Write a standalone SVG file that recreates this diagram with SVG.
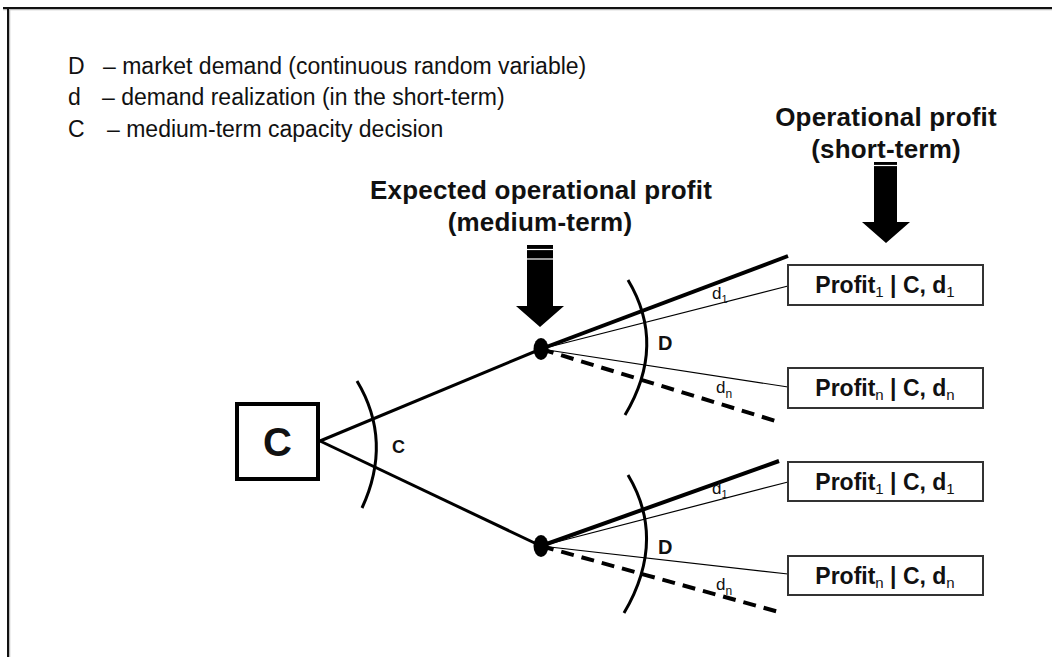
<svg xmlns="http://www.w3.org/2000/svg" width="1052" height="657" viewBox="0 0 1052 657">
  <style>
    .legend { font-family: "Liberation Sans", Arial, sans-serif; font-size: 23px; fill: #111; }
    .head { font-family: "Liberation Sans", Arial, sans-serif; font-size: 26px; font-weight: bold; fill: #111; text-anchor: middle; letter-spacing: 0.2px; }
    .lbl { font-family: "Liberation Sans", Arial, sans-serif; font-weight: bold; fill: #111; }
    .sm { font-family: "Liberation Sans", Arial, sans-serif; font-size: 17px; fill: #111; }
    .box { fill: #fff; stroke: #333; stroke-width: 2; }
    .prof { font-family: "Liberation Sans", Arial, sans-serif; font-size: 23px; font-weight: bold; fill: #111; text-anchor: middle; }
    .sub { font-size: 15px; font-weight: normal; }
    .trunk { stroke: #000; stroke-width: 3; fill: none; }
    .thick { stroke: #000; stroke-width: 4; fill: none; }
    .thin { stroke: #000; stroke-width: 1.2; fill: none; }
    .dash { stroke: #000; stroke-width: 4; fill: none; stroke-dasharray: 13 8; }
    .arc { stroke: #000; stroke-width: 3; fill: none; }
  </style>

  <rect width="1052" height="657" fill="#fff"/>

  <!-- frame -->
  <g id="frame">
    <line x1="3" y1="9.5" x2="1052" y2="9.5" stroke="#bbb" stroke-width="1.5"/>
    <line x1="3" y1="8" x2="1052" y2="8" stroke="#111" stroke-width="2"/>
    <line x1="9.5" y1="9" x2="9.5" y2="657" stroke="#bbb" stroke-width="1.5"/>
    <line x1="8" y1="7" x2="8" y2="657" stroke="#111" stroke-width="2"/>
  </g>

  <!-- legend -->
  <g id="legend">
    <text class="legend" x="68" y="74">D</text>
    <text class="legend" x="103" y="74">– market demand (continuous random variable)</text>
    <text class="legend" x="68" y="105">d</text>
    <text class="legend" x="102" y="105">– demand realization (in the short-term)</text>
    <text class="legend" x="68" y="137">C</text>
    <text class="legend" x="107" y="137">– medium-term capacity decision</text>
  </g>

  <!-- headings -->
  <g id="heading-medium">
    <text class="head" x="541" y="199">Expected operational profit</text>
    <text class="head" x="540" y="231">(medium-term)</text>
  </g>
  <g id="heading-short">
    <text class="head" x="886" y="126">Operational profit</text>
    <text class="head" x="886" y="158">(short-term)</text>
  </g>

  <!-- block arrows -->
  <g id="arrow-medium">
    <polygon points="527,245 553,245 553,306 564,306 540,327 516,306 527,306" fill="#000"/>
    <line x1="527" y1="249.5" x2="553" y2="249.5" stroke="#fff" stroke-width="1.2"/>
    <line x1="527" y1="259" x2="553" y2="259" stroke="#fff" stroke-width="1.2"/>
  </g>
  <g id="arrow-short">
    <polygon points="874,162 897,162 897,222 910,222 886,243 862,222 874,222" fill="#000"/>
    <line x1="874" y1="165.5" x2="897" y2="165.5" stroke="#fff" stroke-width="1.2"/>
  </g>

  <!-- connectors -->
  <g id="connectors">
    <line class="trunk" x1="320" y1="441" x2="541" y2="349"/>
    <line class="trunk" x1="320" y1="441" x2="541" y2="546"/>

    <line class="thick" x1="541" y1="349" x2="788" y2="256"/>
    <line class="thin" x1="541" y1="349" x2="788" y2="286"/>
    <line class="thin" x1="541" y1="349" x2="788" y2="387"/>
    <line class="dash" x1="541" y1="349" x2="779" y2="422"/>

    <line class="thick" x1="541" y1="546" x2="779" y2="461"/>
    <line class="thin" x1="541" y1="546" x2="788" y2="482"/>
    <line class="thin" x1="541" y1="546" x2="788" y2="574"/>
    <line class="dash" x1="541" y1="546" x2="779" y2="612"/>

    <path class="arc" d="M357,381 Q393,441 362,508"/>
    <path class="arc" d="M628,280 Q667,345 625,415"/>
    <path class="arc" d="M628,475 Q667,540 624,613"/>
  </g>

  <!-- decision node -->
  <g id="decision">
    <rect x="237" y="404" width="81" height="75" fill="#fff" stroke="#000" stroke-width="4"/>
    <text class="lbl" x="277.5" y="456" font-size="40" text-anchor="middle">C</text>
    <text class="lbl" x="392" y="453" font-size="18">C</text>
  </g>

  <!-- chance nodes -->
  <g id="chance-upper">
    <ellipse cx="541" cy="349" rx="7.5" ry="11" fill="#000"/>
    <text class="lbl" x="658" y="350" font-size="20">D</text>
    <text class="sm" x="712" y="299">d<tspan font-size="11" dy="4">1</tspan></text>
    <text class="sm" x="716" y="393">d<tspan font-size="12" dy="5">n</tspan></text>
  </g>
  <g id="chance-lower">
    <ellipse cx="541" cy="546" rx="7.5" ry="11" fill="#000"/>
    <text class="lbl" x="658" y="554" font-size="20">D</text>
    <text class="sm" x="712" y="494">d<tspan font-size="11" dy="4">1</tspan></text>
    <text class="sm" x="716" y="590">d<tspan font-size="12" dy="5">n</tspan></text>
  </g>

  <!-- outcome boxes -->
  <g id="outcome-upper-1">
    <rect class="box" x="788" y="265" width="195" height="40"/>
    <text class="prof" x="885" y="293">Profit<tspan class="sub" dy="4">1</tspan><tspan dy="-4"> | C, d</tspan><tspan class="sub" dy="4">1</tspan></text>
  </g>
  <g id="outcome-upper-n">
    <rect class="box" x="788" y="368" width="195" height="40"/>
    <text class="prof" x="885" y="396">Profit<tspan class="sub" dy="4">n</tspan><tspan dy="-4"> | C, d</tspan><tspan class="sub" dy="4">n</tspan></text>
  </g>
  <g id="outcome-lower-1">
    <rect class="box" x="788" y="462" width="195" height="39"/>
    <text class="prof" x="885" y="490">Profit<tspan class="sub" dy="4">1</tspan><tspan dy="-4"> | C, d</tspan><tspan class="sub" dy="4">1</tspan></text>
  </g>
  <g id="outcome-lower-n">
    <rect class="box" x="788" y="556" width="195" height="39"/>
    <text class="prof" x="885" y="584">Profit<tspan class="sub" dy="4">n</tspan><tspan dy="-4"> | C, d</tspan><tspan class="sub" dy="4">n</tspan></text>
  </g>
</svg>
